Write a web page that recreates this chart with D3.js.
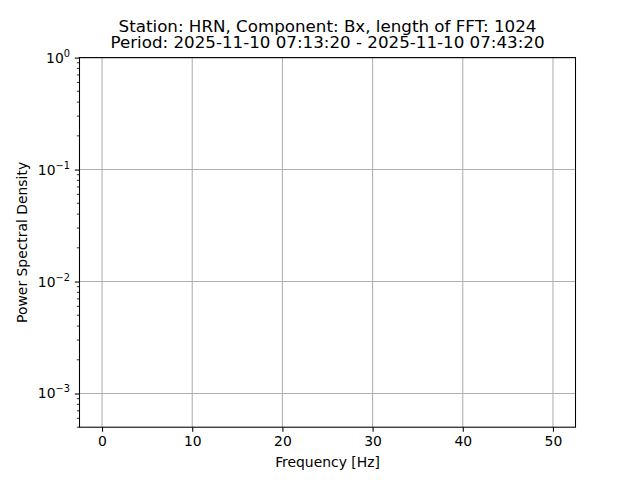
<!DOCTYPE html>
<html>
<head>
<meta charset="utf-8">
<script src="https://cdn.jsdelivr.net/npm/d3@7"></script>
<style>
  body { margin: 0; background: #fff; }
  svg text { font-family: "DejaVu Sans", sans-serif; fill: #000; }
</style>
</head>
<body>
<div id="chart"></div>
<script>
// Chart data (the spectrum itself is empty in the reference picture)
const freq = [];
const psd = [];
const xTicks = [0, 10, 20, 30, 40, 50];
const yExponents = [0, -1, -2, -3];
const xDomain = [-2.5, 52.5];
const yDomain = [5e-4, 1];
const titleLines = [
  "Station: HRN, Component: Bx, length of FFT: 1024",
  "Period: 2025-11-10 07:13:20 - 2025-11-10 07:43:20"
];

const W = 640, H = 480;
const margin = { left: 79.5, right: 64.5, top: 57.6, bottom: 52.8 };
const width = W - margin.left - margin.right;
const height = H - margin.top - margin.bottom;
const fs = 13.9;   // tick / axis label size

const svg = d3.select("#chart").append("svg")
  .attr("width", W)
  .attr("height", H);

const g = svg.append("g")
  .attr("transform", "translate(" + margin.left + "," + margin.top + ")");

let x = d3.scaleLinear().domain(xDomain).range([0, width]);
let y = d3.scaleLog().domain(yDomain).range([height, 0]);

// minor ticks for the log axis
let minor = [];
for (let e = -4; e <= 0; e++) {
  for (let m = 2; m <= 9; m++) {
    let v = m * Math.pow(10, e);
    if (v >= yDomain[0] && v <= yDomain[1]) minor.push(v);
  }
}
let major = yExponents.map(e => Math.pow(10, e));

// grid
g.append("g").selectAll("line")
  .data(xTicks).enter().append("line")
  .attr("x1", d => x(d)).attr("x2", d => x(d))
  .attr("y1", 0).attr("y2", height)
  .attr("stroke", "#b0b0b0").attr("stroke-width", 1.07);

g.append("g").selectAll("line")
  .data(major).enter().append("line")
  .attr("x1", 0).attr("x2", width)
  .attr("y1", d => y(d)).attr("y2", d => y(d))
  .attr("stroke", "#b0b0b0").attr("stroke-width", 1.07);

// spectrum line (nothing to draw here)
g.append("path")
  .datum(freq.map((f, i) => [f, psd[i]]))
  .attr("fill", "none")
  .attr("stroke", "#1f77b4")
  .attr("stroke-width", 2)
  .attr("d", d3.line().x(d => x(d[0])).y(d => y(d[1])));

// x axis
let xAxis = g.append("g")
  .attr("transform", "translate(0," + height + ")")
  .call(d3.axisBottom(x).tickValues(xTicks).tickSize(4.67).tickPadding(4.67).tickFormat(d3.format("d")));
xAxis.select(".domain").remove();
xAxis.selectAll(".tick line").attr("stroke", "#000").attr("stroke-width", 1.07);
xAxis.selectAll(".tick text").style("font-size", fs + "px").attr("font-family", "DejaVu Sans");

// y axis: minor ticks
g.append("g").selectAll("line")
  .data(minor).enter().append("line")
  .attr("x1", -2.67).attr("x2", 0)
  .attr("y1", d => y(d)).attr("y2", d => y(d))
  .attr("stroke", "#000").attr("stroke-width", 0.8);

// y axis: major ticks
let yAxis = g.append("g")
  .call(d3.axisLeft(y).tickValues(major).tickSize(4.67).tickPadding(4.67).tickFormat(""));
yAxis.select(".domain").remove();
yAxis.selectAll(".tick line").attr("stroke", "#000").attr("stroke-width", 1.07);

// tick labels as 10^e
let yLab = g.append("g").selectAll("text")
  .data(yExponents).enter().append("text")
  .attr("x", -9.5)
  .attr("y", d => y(Math.pow(10, d)) + 5)
  .attr("text-anchor", "end")
  .style("font-size", fs + "px");
yLab.append("tspan").text("10");
yLab.append("tspan")
  .attr("dy", -6)
  .style("font-size", "9.8px")
  .text(d => d < 0 ? "\u2212" + Math.abs(d) : d);

// frame
g.append("rect")
  .attr("width", width).attr("height", height)
  .attr("fill", "none")
  .attr("stroke", "#000").attr("stroke-width", 1.07);

// labels
svg.append("text")
  .attr("x", margin.left + width / 2)
  .attr("y", 466.5)
  .attr("text-anchor", "middle")
  .style("font-size", fs + "px")
  .text("Frequency [Hz]");

svg.append("text")
  .attr("transform", "translate(27," + (margin.top + height / 2) + ") rotate(-90)")
  .attr("text-anchor", "middle")
  .style("font-size", fs + "px")
  .text("Power Spectral Density");

// title, two lines in one text element
let title = svg.append("text")
  .attr("y", 31.6)
  .attr("text-anchor", "middle")
  .style("font-size", "16.7px");
title.selectAll("tspan")
  .data(titleLines).enter().append("tspan")
  .attr("x", margin.left + width / 2)
  .attr("dy", (d, i) => i === 0 ? 0 : 16.2)
  .text(d => d);
</script>
</body>
</html>
